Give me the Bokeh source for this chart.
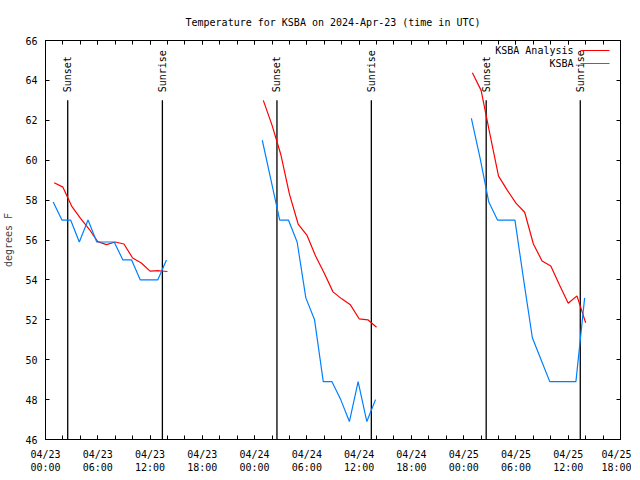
import math
import pandas as pd
from bokeh.plotting import figure
from bokeh.models import (DatetimeAxis, LinearAxis, FixedTicker, DatetimeTickFormatter,
                          Range1d, Label, BoxAnnotation, CustomJSTickFormatter)
from bokeh.core.properties import value
from bokeh.embed import file_html
from bokeh.resources import INLINE

# ---------------- data ----------------
TITLE = "Temperature for KSBA on 2024-Apr-23 (time in UTC)"
Y_LABEL = "degrees F"
days = ["2024-04-23", "2024-04-24", "2024-04-25"]

# KSBA Analysis (hourly, hh:00)
analysis_clock = ["01:00", "02:00", "03:00", "04:00", "05:00", "06:00", "07:00",
                  "08:00", "09:00", "10:00", "11:00", "12:00", "13:00", "14:00"]
analysis_day1 = [58.87, 58.65, 57.70, 57.10, 56.55, 55.92, 55.77,
                 55.90, 55.80, 55.10, 54.85, 54.44, 54.46, 54.42]
analysis_day2 = [63.00, 61.76, 60.30, 58.30, 56.80, 56.25, 55.20,
                 54.33, 53.40, 53.05, 52.75, 52.05, 52.00, 51.63]
analysis_day3 = [64.38, 63.50, 61.33, 59.20, 58.50, 57.85, 57.39,
                 55.80, 54.95, 54.70, 53.75, 52.83, 53.20, 51.85]

# KSBA observations (hh:53)
obs_clock = ["00:53", "01:53", "02:53", "03:53", "04:53", "05:53", "06:53",
             "07:53", "08:53", "09:53", "10:53", "11:53", "12:53", "13:53"]
obs_day1 = [57.9, 57.0, 57.0, 55.9, 57.0, 55.9, 55.9,
            55.9, 55.0, 55.0, 54.0, 54.0, 54.0, 55.0]
obs_day2 = [61.0, 59.0, 57.0, 57.0, 55.9, 53.1, 52.0,
            48.9, 48.9, 48.0, 46.9, 48.9, 46.9, 48.0]
obs_day3 = [62.1, 60.1, 57.9, 57.0, 57.0, 57.0, 54.0,
            51.1, 50.0, 48.9, 48.9, 48.9, 48.9, 53.1]

sunset_times = ["2024-04-23 02:33", "2024-04-24 02:34", "2024-04-25 02:35"]
sunrise_times = ["2024-04-23 13:25", "2024-04-24 13:24", "2024-04-25 13:23"]

X_START = "2024-04-23 00:00"
X_END = "2024-04-25 18:00"
Y_MIN, Y_MAX = 46, 66
Y_TICKS = [46, 48, 50, 52, 54, 56, 58, 60, 62, 64, 66]

SERIES_NAMES = ["KSBA Analysis", "KSBA"]
RED = "#ff0000"
BLUE = "#0080ff"
FONT = "DejaVu Sans Mono"
FS = "10px"
LINE_TOP = 63.0

# ---------------- figure ----------------
x0 = pd.Timestamp(X_START)
x1 = pd.Timestamp(X_END)

p = figure(frame_width=575, frame_height=399, x_axis_type="datetime",
           x_range=Range1d(x0, x1), y_range=Range1d(Y_MIN, Y_MAX),
           output_backend="svg", toolbar_location=None,
           min_border_left=38, min_border_right=11, min_border_top=40, min_border_bottom=33)
p.background_fill_color = "white"
p.border_fill_color = "white"
p.outline_line_color = "black"
p.outline_line_width = 1
p.xgrid.visible = False
p.ygrid.visible = False

p.title.text = TITLE
p.title.align = "center"
p.title.text_font = FONT
p.title.text_font_size = FS
p.title.text_font_style = "normal"
p.title.text_color = "black"
p.title.standoff = 25

major = pd.date_range(x0, x1, freq="6h")
minor = pd.date_range(x0, x1, freq="2h")
to_ms = lambda idx: [t.value / 1e6 for t in idx]
xticker = FixedTicker(ticks=to_ms(major), minor_ticks=to_ms(minor))
fmt = "%m/%d\n%H:%M"
xfmt = DatetimeTickFormatter(hours=fmt, days=fmt, hourmin=fmt, minutes=fmt, months=fmt)
yticker = FixedTicker(ticks=Y_TICKS)
blank = CustomJSTickFormatter(code="return '';")


def style_axis(ax):
    ax.axis_line_color = None
    ax.major_tick_in = 4
    ax.major_tick_out = 0
    ax.minor_tick_in = 4
    ax.minor_tick_out = 0
    ax.major_tick_line_color = "black"
    ax.minor_tick_line_color = "black"
    ax.major_label_text_font = FONT
    ax.major_label_text_font_size = FS
    ax.major_label_text_color = "black"


xa = p.xaxis[0]
xa.ticker = xticker
xa.formatter = xfmt
style_axis(xa)
xa.major_label_standoff = 9

ya = p.yaxis[0]
ya.ticker = yticker
style_axis(ya)
ya.minor_tick_in = 0
ya.major_label_standoff = 8
ya.axis_label = Y_LABEL
ya.axis_label_text_font = FONT
ya.axis_label_text_font_size = FS
ya.axis_label_text_font_style = "normal"
ya.axis_label_standoff = 8

top_ax = DatetimeAxis(ticker=xticker, formatter=blank)
style_axis(top_ax)
top_ax.major_label_standoff = 0
p.add_layout(top_ax, "above")

right_ax = LinearAxis(ticker=yticker, formatter=blank)
style_axis(right_ax)
right_ax.minor_tick_in = 0
right_ax.major_label_standoff = 0
p.add_layout(right_ax, "right")

# ---------------- sunrise / sunset ----------------
sun_x = [pd.Timestamp(t) for t in sunset_times + sunrise_times]
sun_lbl = ["Sunset"] * len(sunset_times) + ["Sunrise"] * len(sunrise_times)
p.segment(x0=sun_x, y0=[Y_MIN] * len(sun_x), x1=sun_x, y1=[LINE_TOP] * len(sun_x),
          line_color="black", line_width=1.3)
p.text(x=sun_x, y=[LINE_TOP] * len(sun_x), text=sun_lbl, angle=math.pi / 2,
       text_align="left", text_baseline="middle", y_offset=-8,
       text_font=value(FONT), text_font_size=FS, text_color="black")

# ---------------- series ----------------
for day, vals in zip(days, [analysis_day1, analysis_day2, analysis_day3]):
    xs = [pd.Timestamp(f"{day} {c}") for c in analysis_clock]
    p.line(xs, vals, line_color=RED, line_width=1.2)
for day, vals in zip(days, [obs_day1, obs_day2, obs_day3]):
    xs = [pd.Timestamp(f"{day} {c}") for c in obs_clock]
    p.line(xs, vals, line_color=BLUE, line_width=1.2)

# ---------------- legend (gnuplot style: text then sample) ----------------
for i, (name, col) in enumerate(zip(SERIES_NAMES, [RED, BLUE])):
    yy = 389 - 13 * i
    p.add_layout(Label(x=528, y=yy, x_units="screen", y_units="screen", text=name,
                       text_align="right", text_baseline="middle",
                       text_font=FONT, text_font_size=FS, text_color="black"))
    p.add_layout(BoxAnnotation(left=535, right=564, bottom=yy - 0.6, top=yy + 0.6,
                               left_units="screen", right_units="screen",
                               bottom_units="screen", top_units="screen",
                               fill_color=col, fill_alpha=1, line_color=None))

open("out.html", "w").write(file_html(p, INLINE))
